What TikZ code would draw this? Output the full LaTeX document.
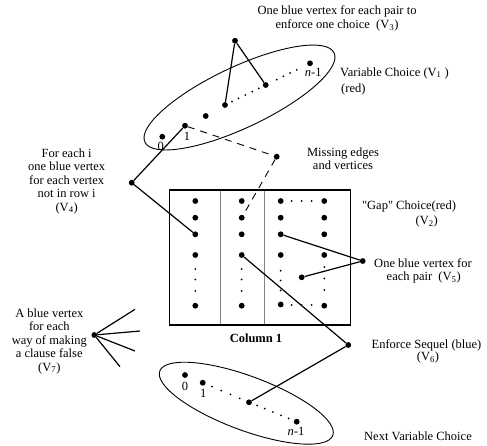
\documentclass[tikz,border=0pt]{standalone}
\usepackage{fontspec}
\setmainfont{Liberation Serif}
\newfontfamily\plainserif[Ligatures=Common]{Liberation Serif}
\usetikzlibrary{calc}
\begin{document}
\begin{tikzpicture}[x=1pt,y=-1pt,
  dot/.style={circle,fill=black,inner sep=0pt,minimum size=5.8pt},
  conn/.style={line width=1.2pt},
  miss/.style={line width=0.9pt,dash pattern=on 7pt off 6pt},
  lbl/.style={font=\fontsize{12.5}{13.5}\selectfont,inner sep=0pt,align=center},
  num/.style={font=\fontsize{12.5}{13}\selectfont,inner sep=0pt},
  ell/.style={line width=0.9pt}]
\useasboundingbox (0,0) rectangle (487,445);

% ---------- top ellipse (variable choice) ----------
\draw[ell,rotate around={25.25:(239.5,97.5)}] (239.5,97.5) ellipse [x radius=104.6, y radius=30.5];
\node[dot] (t0) at (162.3,136.7) {};
\node[dot] (t1) at (185,125.7) {};
\node[dot] (t2) at (205.7,116) {};
\node[dot] (t3) at (225,105) {};
\node[dot] (t4) at (265.7,85) {};
\node[dot] (tn) at (310,63.3) {};
\node[num] (t0l) at (160.7,146) {0};
\node[num] (t1l) at (187,136) {1};
\node[num] (tnl) at (313.3,72.7) {\textit{n}-1};
\foreach \f in {0.17,0.33,0.5,0.67,0.83} \fill ($(t3)!\f!(t4)$) circle (1pt);
\foreach \f in {0.25,0.4,0.55,0.7} \fill ($(t4)!\f!(tn)$) circle (1pt);
\node[dot] (v3) at (235,40.7) {};
\draw[conn] (v3) -- (t3);
\draw[conn] (v3) -- (t4);

% ---------- box ----------
\draw[gray,line width=0.9pt] (220,190) -- (220,325) (264.3,190) -- (264.3,325);
\draw[line width=1.5pt] (169.5,190) rectangle (350.5,325);
\foreach \y [count=\i] in {201,217.7,234.3,255,305.7} {
  \node[dot] (c1-\i) at (195.3,\y) {};
  \node[dot] (c2-\i) at (241.7,\y) {};
  \node[dot] (gr-\i) at (324.3,\y) {};
}
\foreach \y [count=\i] in {201,217.7,234.3,255,304.5}
  \node[dot] (gl-\i) at (280.7,\y) {};
\foreach \y in {269,279.5,291} {
  \fill (195.3,\y) circle (1pt);
  \fill (241.7,\y) circle (1pt);
}
\foreach \y in {270.7,280.5,290.5} \fill (280.7,\y) circle (1pt);
\foreach \y in {267,278.5,290} \fill (324.3,\y) circle (1pt);
\foreach \x in {291.7,301.7,311.7} {
  \fill (\x,201) circle (1pt);
  \fill (\x,305) circle (1pt);
}
\node[dot] (g) at (301.7,277.3) {};

% ---------- V4 ----------
\node[dot] (v4) at (131.7,182.7) {};
\draw[conn] (v4) -- (t1);
\draw[conn] (v4) -- (c1-3);

% ---------- missing edges ----------
\node[dot] (m) at (276.7,156.7) {};
\draw[miss] (t1) -- (m);
\draw[miss] (m) -- (c2-2);

% ---------- V5 ----------
\node[dot] (v5) at (362.7,261) {};
\draw[conn] (gl-3) -- (v5);
\draw[conn] (g) -- (v5);

% ---------- bottom ellipse ----------
\draw[ell,rotate around={-20.4:(246.3,403.2)}] (246.3,403.2) ellipse [x radius=92.3, y radius=27.1];
\node[dot] (b0) at (185,375) {};
\node[dot] (b1) at (202.7,382.7) {};
\node[dot] (bm) at (249,402.3) {};
\node[dot] (bn) at (296.7,421.7) {};
\node[num] (b0l) at (185,386) {0};
\node[num] (b1l) at (203.3,393) {1};
\node[num] (bnl) at (296,431.5) {\textit{n}-1};
\foreach \f in {0.2,0.4,0.6,0.8} \fill ($(b1)!\f!(bm)$) circle (1pt);
\foreach \f in {0.17,0.33,0.5,0.67,0.83} \fill ($(bm)!\f!(bn)$) circle (1pt);

% ---------- V6 ----------
\node[dot] (v6) at (348.3,345) {};
\draw[conn] (c2-4) -- (v6);
\draw[conn] (v6) -- (bm);

% ---------- V7 ----------
\node[dot] (v7) at (94.3,335) {};
\coordinate (e1) at (135,309.3);
\coordinate (e2) at (140,331);
\coordinate (e3) at (135,351);
\coordinate (e4) at (120,366.7);
\foreach \e in {e1,e2,e3,e4} \draw[conn] (v7) -- (\e);

% ---------- texts ----------
\node[lbl] (v3t) at (337,18.5) {One blue vertex for each pair to\\enforce one choice\ \ (V\textsubscript{3})};
\node[lbl,anchor=west] (v1t) at (340,73) {Variable Choice (V\textsubscript{1} )};
\node[lbl,anchor=west] (v1r) at (341,89) {(red)};
\node[lbl] (v4t) at (66.7,181) {For each i\\one blue vertex\\for each vertex\\not in row i\\(V\textsubscript{4})};
\node[lbl] (mt) at (343,158.5) {Missing edges\\and vertices};
\node[lbl] (v2t) at (409,206.7) {{\plainserif "Gap"} Choice(red)};
\node[lbl] (v2s) at (426.7,221.7) {(V\textsubscript{2})};
\node[lbl] (v5t) at (423,262.7) {One blue vertex for};
\node[lbl] (v5s) at (423.7,277.3) {each pair\ \ (V\textsubscript{5})};
\node[lbl,font=\fontsize{12.5}{13.5}\selectfont\bfseries] (col) at (256,338) {Column 1};
\node[lbl] (v6t) at (426.5,345) {Enforce Sequel (blue)};
\node[lbl] (v6s) at (428,357.5) {(V\textsubscript{6})};
\node[lbl] (nvc) at (418,436.7) {Next Variable Choice};
\node[lbl] (v7t) at (49.3,341) {A blue vertex\\for each\\way of making\\a clause false\\(V\textsubscript{7})};
\end{tikzpicture}
\end{document}
